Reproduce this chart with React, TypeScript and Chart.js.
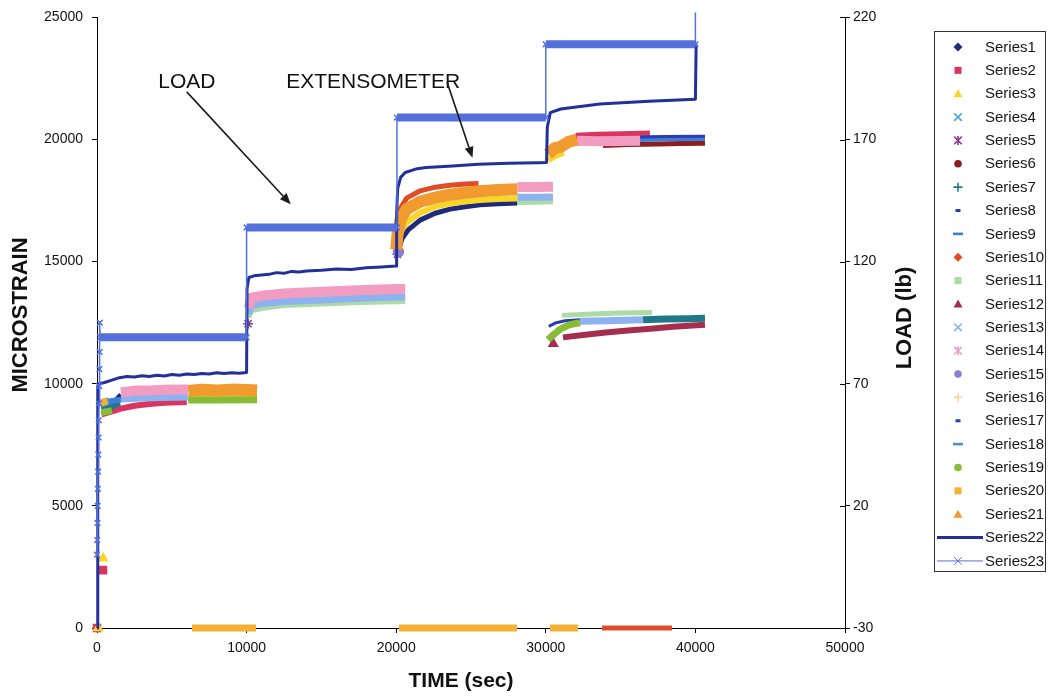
import React, { useEffect, useRef } from 'react';
import { Chart, registerables } from 'chart.js';

Chart.register(...registerables);

type Pt = [number, number] | null;

// ---- axis ticks ----
const X_TICKS = [0, 10000, 20000, 30000, 40000, 50000];
const STRAIN_TICKS = [0, 5000, 10000, 15000, 20000, 25000];
const LOAD_TICKS = [-30, 20, 70, 120, 170, 220];

// ---- labels ----
const SERIES_NAMES = [
  'Series1', 'Series2', 'Series3', 'Series4', 'Series5', 'Series6', 'Series7', 'Series8',
  'Series9', 'Series10', 'Series11', 'Series12', 'Series13', 'Series14', 'Series15', 'Series16',
  'Series17', 'Series18', 'Series19', 'Series20', 'Series21', 'Series22', 'Series23',
];
const AXIS_TITLES = ['TIME (sec)', 'MICROSTRAIN', 'LOAD (lb)'];
const CALLOUTS = ['LOAD', 'EXTENSOMETER'];

// ---- series values: [time (sec), microstrain]  (null = gap) ----
const s1: Pt[] = [[300, 9050], [800, 9200], [1300, 9350], [1600, 9550], null,
  [20150, 15500], [20400, 15950], [20800, 16300], [21600, 16700], [22600, 16980], [23600, 17150],
  [24600, 17250], [25600, 17330], [26800, 17370], [28100, 17400]];
const s2: Pt[] = [[0, 0], null, [400, 2370], null,
  [300, 8750], [900, 8850], [1600, 8980], [2500, 9100], [3500, 9170], [4500, 9220], [6000, 9250], null,
  [32000, 20150], [33500, 20200], [35000, 20220], [36960, 20250]];
const s3: Pt[] = [[80, 0], null, [400, 2860], null,
  [6100, 9430], [8000, 9420], [10700, 9440], null,
  [20050, 15600], [20150, 15900], [20400, 16350], [20800, 16650], [21600, 17000], [22600, 17250],
  [23600, 17380], [24600, 17460], [25600, 17520], [26800, 17560], [28100, 17590], null,
  [30150, 19150], [30700, 19350], [31200, 19450]];
const s4: Pt[] = [[250, 9100], [700, 9200]];
const s5: Pt[] = [[10100, 12460], null, [20080, 15300]];
const s6: Pt[] = [[33820, 19760], [35500, 19800], [37500, 19820], [39000, 19840], [40640, 19850]];
const s7: Pt[] = [[300, 8950], [900, 9050], [1500, 9250], null,
  [36500, 12620], [38000, 12650], [39500, 12660], [40640, 12680]];
const s8: Pt[] = [[30200, 12350], [30700, 12500], [31300, 12580], [32290, 12620]];
const s9: Pt[] = [[300, 9150], [1000, 9300], [1600, 9350], null,
  [36300, 20020], [38000, 20050], [40640, 20060]];
const s10: Pt[] = [[20100, 16700], [20300, 17200], [20700, 17600], [21600, 17900], [22600, 18050],
  [23600, 18130], [24600, 18180], [25500, 18200], null, [33760, 0], [38440, 0]];
const s11: Pt[] = [[10150, 12700], [10300, 12990], [11000, 13080], [12500, 13200], [15000, 13270],
  [17500, 13330], [20000, 13360], [20600, 13370], null,
  [28100, 17420], [29300, 17430], [30480, 17450], null,
  [31080, 12800], [33000, 12860], [35000, 12900], [37100, 12920]];
const s12: Pt[] = [[30500, 11640], null,
  [31150, 11900], [32500, 12000], [34000, 12100], [35500, 12180], [37000, 12250], [38500, 12330], [40640, 12420]];
const s13: Pt[] = [[1600, 9380], [3000, 9420], [4500, 9440], [6080, 9460], null,
  [10150, 12850], [10300, 13190], [11000, 13280], [12500, 13370], [15000, 13430], [17500, 13500],
  [20000, 13550], [20600, 13550], null,
  [28100, 17640], [29300, 17640], [30480, 17650], null,
  [32290, 12560], [34000, 12580], [36500, 12620]];
const s14: Pt[] = [[1600, 9650], [2500, 9720], [3500, 9720], [4500, 9750], [6080, 9760], null,
  [10150, 13100], [10300, 13520], [11000, 13600], [12500, 13700], [15000, 13770], [17500, 13830],
  [20000, 13880], [20600, 13880], null,
  [28100, 18060], [29300, 18060], [30480, 18070], null,
  [32090, 19950], [33500, 19930], [35000, 19940], [36300, 19950]];
const s15: Pt[] = [[20150, 15400]];
const s16: Pt[] = [];
const s17: Pt[] = [[36300, 20100], [38000, 20120], [40640, 20130]];
const s18: Pt[] = [[250, 9250], [800, 9320]];
const s19: Pt[] = [[300, 8820], [1000, 8900], null,
  [6100, 9330], [8000, 9340], [10700, 9350], null,
  [30150, 11800], [30500, 12000], [31000, 12250], [31600, 12420], [32290, 12500]];
const s20: Pt[] = [[200, 9200], [700, 9300], null,
  [6350, 0], [10630, 0], null, [20190, 0], [28070, 0], null, [30280, 0], [32150, 0]];
const s21: Pt[] = [[6100, 9700], [7000, 9760], [8000, 9720], [9000, 9760], [10000, 9740], [10700, 9720], null,
  [20000, 15500], [20100, 16200], [20300, 16750], [20700, 17150], [21600, 17450], [22600, 17620],
  [23600, 17740], [24600, 17820], [25600, 17880], [26800, 17930], [28100, 17960], null,
  [30150, 19400], [30600, 19650], [31000, 19700], [31500, 19900], [32090, 20000]];
// extensometer (microstrain)
const s22: Pt[] = [[0, 0], [50, 9900], [150, 10000], [500, 10050], [1000, 10150], [1500, 10250],
  [2000, 10300], [2500, 10280], [3000, 10330], [3500, 10300], [4000, 10350], [4500, 10320],
  [5000, 10380], [5500, 10350], [6000, 10400], [6500, 10380], [7000, 10420], [7500, 10400],
  [8000, 10450], [8500, 10420], [9000, 10450], [9500, 10430], [10000, 10460],
  [10030, 13900], [10150, 14350], [10500, 14420], [11000, 14450], [11500, 14480], [12000, 14550],
  [12500, 14520], [13000, 14600], [13500, 14580], [14000, 14620], [15000, 14650], [16000, 14700],
  [17000, 14680], [18000, 14750], [19000, 14780], [20000, 14820],
  [20030, 17000], [20100, 18000], [20300, 18450], [20600, 18650], [21300, 18790], [22000, 18850],
  [23500, 18910], [25500, 18990], [27500, 19030], [29500, 19050], [30050, 19060],
  [30100, 20500], [30300, 21100], [31000, 21250], [33600, 21450], [36900, 21570], [40000, 21650],
  [40050, 23900]];
// load (lb), right axis
const s23: Pt[] = [[0, 0], [15, 6], [30, 13], [45, 20], [60, 27], [75, 34], [90, 41], [105, 48],
  [120, 55], [135, 62], [150, 69], [165, 76], [180, 83], [195, 95], [210, 89],
  [10000, 89], [10000, 134], [20050, 134], [20050, 179], [30000, 179], [30000, 209],
  [40000, 209], [40000, 222]];

const SERIES: Pt[][] = [s1, s2, s3, s4, s5, s6, s7, s8, s9, s10, s11, s12, s13, s14, s15, s16,
  s17, s18, s19, s20, s21, s22, s23];

// ---- styles ----
const COLORS = ['#1F2A7A', '#D8365E', '#F7D52A', '#45A6D6', '#8A3C8E', '#8B1E1E', '#1E7A8A',
  '#2B3DB0', '#3C7ED6', '#E04C28', '#ADDBA6', '#A52E50', '#8CB2F0', '#F29CC2', '#8C7ED2',
  '#FAD2B0', '#2C3CB4', '#4A92C8', '#86BC36', '#F5B232', '#F09A30', '#22309C', '#5370DC'];
const MARKERS = ['diamond', 'square', 'triangle', 'x', 'star', 'circle', 'plus', 'dashS', 'dashL',
  'diamond', 'square', 'triangle', 'x', 'star', 'circle', 'plus', 'dashS', 'dashL', 'circle',
  'square', 'triangle', 'line', 'lineX'];
const WIDTHS = [5, 6, 6, 6, 3, 5, 7, 3, 6, 5, 5, 6, 7, 10, 3, 3, 3, 6, 7, 7, 12, 3, 1.5];
const CHART_POINT: Record<string, string> = {
  diamond: 'rectRot', square: 'rect', triangle: 'triangle', x: 'crossRot', star: 'star',
  circle: 'circle', plus: 'cross', dashS: 'dash', dashL: 'dash', line: 'line', lineX: 'crossRot',
};

const FONT = '"Liberation Sans", Arial, Helvetica, sans-serif';

function toXY(arr: Pt[]) {
  let lastX = 0;
  return arr.map((p) => {
    if (p) {
      lastX = p[0];
      return { x: p[0], y: p[1] };
    }
    return { x: lastX, y: null as any };
  });
}

function isolatedRadius(ctx: any) {
  const d = ctx.dataset.data;
  const i = ctx.dataIndex;
  const cur = d[i];
  if (!cur || cur.y == null) return 0;
  const prev = d[i - 1];
  const next = d[i + 1];
  const iso = (!prev || prev.y == null) && (!next || next.y == null);
  return iso ? 5 : 0;
}

function loadRadius(ctx: any) {
  return ctx.dataIndex === ctx.dataset.data.length - 1 ? 0 : 4;
}

function drawMarker(ctx: CanvasRenderingContext2D, kind: string, x: number, y: number, color: string) {
  ctx.save();
  ctx.fillStyle = color;
  ctx.strokeStyle = color;
  ctx.lineWidth = 1.6;
  ctx.beginPath();
  const r = 3.8;
  switch (kind) {
    case 'diamond':
      ctx.moveTo(x, y - 4.5); ctx.lineTo(x + 4.5, y); ctx.lineTo(x, y + 4.5); ctx.lineTo(x - 4.5, y);
      ctx.closePath(); ctx.fill(); break;
    case 'square':
      ctx.fillRect(x - 3.5, y - 3.5, 7, 7); break;
    case 'triangle':
      ctx.moveTo(x, y - 4.5); ctx.lineTo(x + 4.5, y + 3.5); ctx.lineTo(x - 4.5, y + 3.5);
      ctx.closePath(); ctx.fill(); break;
    case 'x':
      ctx.moveTo(x - r, y - r); ctx.lineTo(x + r, y + r); ctx.moveTo(x + r, y - r); ctx.lineTo(x - r, y + r);
      ctx.stroke(); break;
    case 'star':
      ctx.moveTo(x - r, y - r); ctx.lineTo(x + r, y + r); ctx.moveTo(x + r, y - r); ctx.lineTo(x - r, y + r);
      ctx.moveTo(x, y - 4.5); ctx.lineTo(x, y + 4.5); ctx.stroke(); break;
    case 'circle':
      ctx.arc(x, y, 3.8, 0, Math.PI * 2); ctx.fill(); break;
    case 'plus':
      ctx.moveTo(x - 4.5, y); ctx.lineTo(x + 4.5, y); ctx.moveTo(x, y - 4.5); ctx.lineTo(x, y + 4.5);
      ctx.stroke(); break;
    case 'dashS':
      ctx.fillRect(x - 2.5, y - 1.5, 5, 3); break;
    case 'dashL':
      ctx.fillRect(x - 5, y - 1.3, 10, 2.6); break;
    case 'line':
      ctx.lineWidth = 3; ctx.moveTo(x - 21, y); ctx.lineTo(x + 25, y); ctx.stroke(); break;
    case 'lineX':
      ctx.lineWidth = 1; ctx.moveTo(x - 21, y); ctx.lineTo(x + 25, y);
      ctx.moveTo(x - r, y - r); ctx.lineTo(x + r, y + r); ctx.moveTo(x + r, y - r); ctx.lineTo(x - r, y + r);
      ctx.stroke(); break;
  }
  ctx.restore();
}

function arrow(ctx: CanvasRenderingContext2D, x1: number, y1: number, x2: number, y2: number) {
  const a = Math.atan2(y2 - y1, x2 - x1);
  const len = 11;
  const w = 4.5;
  const bx = x2 - len * Math.cos(a);
  const by = y2 - len * Math.sin(a);
  ctx.beginPath();
  ctx.moveTo(x1, y1);
  ctx.lineTo(bx, by);
  ctx.stroke();
  ctx.beginPath();
  ctx.moveTo(x2, y2);
  ctx.lineTo(bx + w * Math.sin(a), by - w * Math.cos(a));
  ctx.lineTo(bx - w * Math.sin(a), by + w * Math.cos(a));
  ctx.closePath();
  ctx.fill();
}

const decorPlugin = {
  id: 'decor',
  afterDraw(chart: any) {
    const ctx: CanvasRenderingContext2D = chart.ctx;
    const xs = chart.scales.x;
    const ys = chart.scales.y;
    const y1 = chart.scales.y1;
    ctx.save();
    // inward halves of right-axis ticks
    ctx.strokeStyle = '#000';
    ctx.lineWidth = 1;
    LOAD_TICKS.forEach((v) => {
      const py = Math.round(y1.getPixelForValue(v)) + 0.5;
      ctx.beginPath();
      ctx.moveTo(y1.left - 5, py);
      ctx.lineTo(y1.left, py);
      ctx.stroke();
    });

    ctx.fillStyle = '#111';
    ctx.textAlign = 'center';
    ctx.textBaseline = 'middle';
    // axis titles
    ctx.font = `bold 21px ${FONT}`;
    ctx.fillText(AXIS_TITLES[0], (xs.left + xs.right) / 2 - 10, 681);
    ctx.font = `bold 22px ${FONT}`;
    ctx.save();
    ctx.translate(21, 315);
    ctx.rotate(-Math.PI / 2);
    ctx.fillText(AXIS_TITLES[1], 0, 0);
    ctx.restore();
    ctx.save();
    ctx.translate(905, 318);
    ctx.rotate(-Math.PI / 2);
    ctx.fillText(AXIS_TITLES[2], 0, 0);
    ctx.restore();

    // callouts
    ctx.font = `21px ${FONT}`;
    ctx.textAlign = 'left';
    ctx.fillText(CALLOUTS[0], xs.getPixelForValue(4100), ys.getPixelForValue(22350));
    ctx.fillText(CALLOUTS[1], xs.getPixelForValue(12650), ys.getPixelForValue(22350));
    ctx.strokeStyle = '#1a1a1a';
    ctx.fillStyle = '#1a1a1a';
    ctx.lineWidth = 1.6;
    arrow(ctx, xs.getPixelForValue(6000), ys.getPixelForValue(21950),
      xs.getPixelForValue(12950), ys.getPixelForValue(17350));
    arrow(ctx, xs.getPixelForValue(23400), ys.getPixelForValue(22350),
      xs.getPixelForValue(25100), ys.getPixelForValue(19250));

    // legend box
    ctx.strokeStyle = '#333';
    ctx.lineWidth = 1;
    ctx.strokeRect(934.5, 31.5, 111, 540);
    ctx.font = `15px ${FONT}`;
    ctx.textAlign = 'left';
    ctx.textBaseline = 'middle';
    SERIES_NAMES.forEach((name, i) => {
      const yy = 47 + i * 23.36;
      drawMarker(ctx, MARKERS[i], 958, yy, COLORS[i]);
      ctx.fillStyle = '#161616';
      ctx.fillText(name, 985, yy + 0.5);
    });
    ctx.restore();
  },
};

function axisCommon(ticks: number[], afterFit: (s: any) => void, padding: number) {
  return {
    type: 'linear' as const,
    afterBuildTicks: (s: any) => {
      s.ticks = ticks.map((v) => ({ value: v }));
    },
    afterFit,
    ticks: {
      autoSkip: false,
      maxRotation: 0,
      padding,
      color: '#111',
      font: { size: 14, family: FONT },
      callback: (v: any) => String(v),
    },
    grid: { display: true, drawOnChartArea: false, drawTicks: true, tickLength: 5, color: '#000', lineWidth: 1 },
    border: { display: true, color: '#000', width: 1 },
  };
}

export default function App() {
  const ref = useRef<HTMLCanvasElement>(null);

  useEffect(() => {
    if (!ref.current) return;
    Chart.defaults.font.family = FONT;

    const datasets: any[] = SERIES.map((arr, i) => {
      const color = COLORS[i];
      const base: any = {
        label: SERIES_NAMES[i],
        data: toXY(arr),
        showLine: true,
        borderColor: color,
        backgroundColor: color,
        pointBackgroundColor: color,
        pointBorderColor: color,
        borderWidth: WIDTHS[i],
        borderJoinStyle: 'round',
        borderCapStyle: 'butt',
        pointStyle: CHART_POINT[MARKERS[i]],
        pointRadius: isolatedRadius,
        pointBorderWidth: 1.5,
        yAxisID: 'y',
        order: 22 - i,
        tension: 0,
        clip: 12,
      };
      if (i === 21) {
        base.pointRadius = 0;
      }
      if (i === 22) {
        base.yAxisID = 'y1';
        base.pointRadius = loadRadius;
        base.pointStyle = 'crossRot';
        base.clip = false;
        base.segment = {
          borderWidth: (c: any) => (c.p0.parsed.y === c.p1.parsed.y ? 8 : 1.5),
        };
      }
      return base;
    });

    const chart = new Chart(ref.current, {
      type: 'scatter',
      data: { datasets },
      options: {
        animation: false,
        responsive: false,
        devicePixelRatio: 1,
        events: [],
        layout: { padding: { top: 16, left: 0, right: 0, bottom: 0 } },
        plugins: {
          legend: { display: false },
          tooltip: { enabled: false },
          title: { display: false },
        },
        scales: {
          x: { ...axisCommon(X_TICKS, (s: any) => { s.height = 68; }, 7), position: 'bottom', min: 0, max: 50000 },
          y: { ...axisCommon(STRAIN_TICKS, (s: any) => { s.width = 97; }, 9), position: 'left', min: 0, max: 25000 },
          y1: { ...axisCommon(LOAD_TICKS, (s: any) => { s.width = 206; }, 3), position: 'right', min: -30, max: 220 },
        },
      } as any,
      plugins: [decorPlugin],
    });
    return () => chart.destroy();
  }, []);

  return (
    <div style={{ position: 'fixed', left: 0, top: 0, width: 1051, height: 696, background: '#fff' }}>
      <canvas ref={ref} width={1051} height={696} style={{ display: 'block', width: 1051, height: 696 }} />
    </div>
  );
}
